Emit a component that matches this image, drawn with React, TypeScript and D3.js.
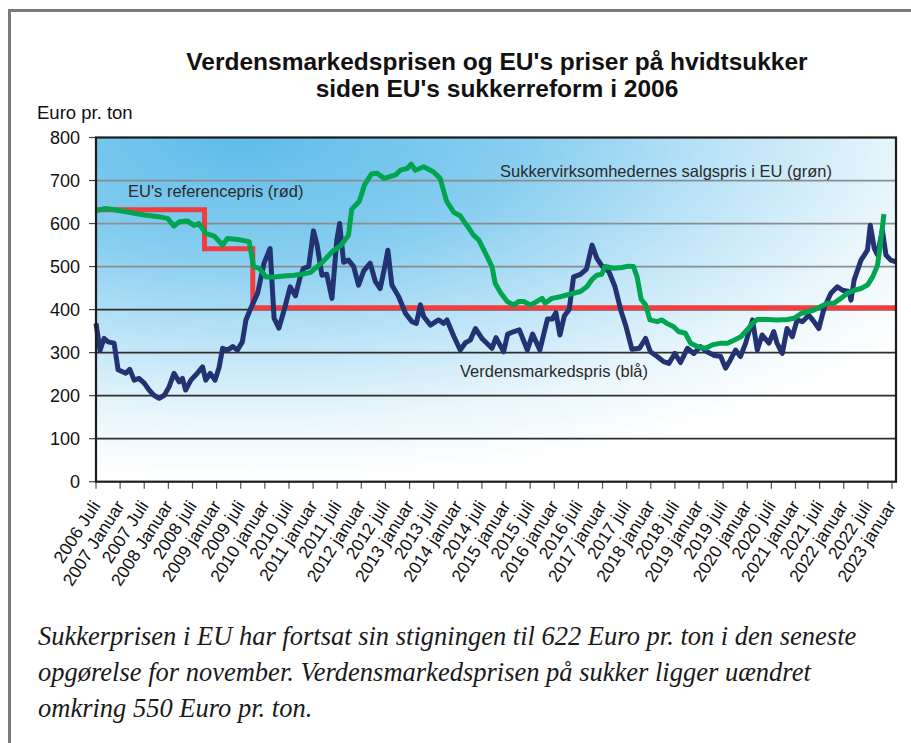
import React, { useEffect, useRef } from 'react';
import * as d3 from 'd3';

// months counted from 2006 juli (0) ; one tick every 6 months
const tickLabels = [
  '2006 Juli', '2007 Januar', '2007 Juli', '2008 Januar', '2008 juli', '2009 januar',
  '2009 juli', '2010 januar', '2010 juli', '2011 januar', '2011 juli', '2012 januar',
  '2012 juli', '2013 januar', '2013 juli', '2014 januar', '2014 juli', '2015 januar',
  '2015 juli', '2016 januar', '2016 juli', '2017 januar', '2017 juli', '2018 januar',
  '2018 juli', '2019 januar', '2019 juli', '2020 januar', '2020 juli', '2021 januar',
  '2021 juli', '2022 januar', '2022 juli', '2023 januar'
];
const yTicks = [0, 100, 200, 300, 400, 500, 600, 700, 800];

// EU's referencepris (rød) – step series [month, euro]
const refPrice: [number, number][] = [
  [0, 631.9], [27, 541.5], [39, 404.4], [199, 404.4]
];

// Sukkervirksomhedernes salgspris i EU (grøn)
const euPrice: [number, number][] = [
  [0, 630], [2.4, 635], [4.5, 632], [7.8, 627], [12, 620], [16.1, 615], [17.8, 612],
  [19.4, 594], [20.7, 604], [22.7, 606], [24.4, 596], [25.6, 600], [27.3, 577],
  [29.4, 571], [31.5, 550], [32.7, 565], [35.2, 563], [38.1, 558], [39.2, 500],
  [40.6, 496], [42.3, 476], [44.3, 476], [46.8, 478], [49.3, 480], [51, 482],
  [53.3, 486], [56.4, 511], [58.9, 536], [60.8, 548], [62.8, 573], [63.6, 633],
  [65.5, 652], [66.8, 690], [68.5, 715], [69.9, 717], [71.7, 705], [74.5, 713],
  [75.7, 724], [77.4, 728], [78.4, 738], [79.4, 724], [81.5, 732], [84, 720],
  [85.6, 705], [87.2, 652], [89, 626], [90.6, 618], [91.9, 600], [92.7, 590],
  [93.9, 573], [95.2, 562], [96.4, 540], [97.2, 525], [98.5, 500], [99.3, 461],
  [100.6, 440], [102.3, 419], [103.9, 411], [105.2, 419], [106.4, 419], [108.1, 411],
  [109.7, 419], [111, 426], [111.7, 415], [113.4, 426], [115.5, 430], [117.1, 434],
  [118.8, 438], [120.5, 442], [122.1, 453], [123.4, 470], [124.6, 480], [125.8, 482],
  [126.6, 500], [128.8, 496], [130.8, 498], [132.5, 501], [133.7, 500], [134.6, 476],
  [135.6, 424], [136.7, 411], [137.8, 376], [139.6, 372], [140.8, 376], [142, 368],
  [143.7, 360], [144.9, 349], [146.6, 345], [147.9, 322], [149.6, 314], [151.7, 310],
  [153.3, 318], [155.4, 322], [157.1, 322], [158.7, 329], [160.4, 337], [162, 353],
  [163.3, 368], [164.5, 377], [167, 377], [169.5, 376], [172, 377], [173.7, 380],
  [175.4, 391], [177, 395], [178.6, 399], [180.3, 407], [182, 415], [183.6, 415],
  [185.3, 426], [186.9, 438], [188.6, 445], [190.3, 449], [191.9, 457], [193.2, 476],
  [194.4, 503], [195.2, 558], [196, 622]
];

// Verdensmarkedspris (blå)
const worldPrice: [number, number][] = [
  [0, 368], [1, 305], [2, 333], [3, 325], [4.5, 322], [5.5, 260], [7.4, 252], [8.4, 261],
  [9.5, 236], [10.7, 240], [12, 229], [13.2, 213], [14.4, 201], [15.7, 194], [17, 201],
  [18.2, 221], [19.4, 252], [20.7, 232], [21.5, 240], [22.3, 213], [23.6, 236],
  [25.2, 252], [26.5, 267], [27.3, 236], [28.4, 252], [29.6, 236], [30.6, 265],
  [31.5, 310], [32.7, 306], [34, 314], [35.2, 306], [36.4, 325], [37.3, 376],
  [38.5, 403], [40.2, 438], [41.8, 508], [43.3, 542], [44.3, 380], [45.5, 357],
  [46.8, 399], [48.3, 453], [49.6, 432], [50.8, 476], [51.6, 496], [52.9, 500],
  [54.1, 583], [55, 550], [56.2, 480], [57.4, 482], [58.7, 426], [59.9, 561],
  [60.6, 600], [61.6, 510], [62.8, 515], [64.1, 500], [65.3, 457], [66.6, 490],
  [68.2, 508], [69.5, 465], [70.7, 449], [72, 508], [72.6, 538], [73.6, 457],
  [75.3, 430], [77, 391], [78.6, 372], [79.7, 368], [80.7, 411], [81.5, 384],
  [83.2, 364], [85.2, 376], [86.5, 368], [87.3, 376], [89, 338], [90.6, 306],
  [91.9, 323], [93.1, 329], [94.4, 356], [96, 333], [98.5, 310], [99.5, 335],
  [101.4, 302], [102.4, 343], [104, 349], [105.3, 353], [107.3, 306], [108.6, 343],
  [110.4, 306], [112.3, 378], [113.5, 378], [114.4, 393], [115.4, 341], [116.5, 385],
  [117.7, 400], [118.8, 476], [120.5, 482], [122, 494], [123.4, 550], [124.6, 519],
  [125.8, 502], [127.6, 488], [129.1, 453], [130.6, 397], [131.8, 362], [133.3, 308],
  [135.2, 310], [136.7, 333], [137.9, 302], [139.6, 291], [141.2, 279], [142.5, 275],
  [144, 298], [145.4, 277], [147.1, 310], [148.7, 298], [150.4, 314], [152, 302],
  [153.7, 294], [155.4, 291], [156.6, 264], [157.8, 283], [159.1, 306], [160.3, 291],
  [161.6, 322], [163.3, 376], [164.5, 306], [165.7, 341], [167.4, 322], [168.6, 349],
  [169.4, 322], [170.7, 298], [171.9, 356], [173.2, 337], [174.4, 376], [175.7, 372],
  [177.3, 387], [178.6, 372], [179.8, 356], [181.1, 403], [182.8, 438], [184.4, 453],
  [185.7, 445], [187.3, 442], [187.8, 422], [188.6, 469], [190.3, 515], [191.9, 538],
  [192.6, 596], [193.6, 542], [194.4, 527], [195.6, 585], [196.5, 527], [197.7, 515],
  [199, 511]
];

const captionLines = [
  'Sukkerprisen i EU har fortsat sin stigningen til 622 Euro pr. ton i den seneste',
  'opgørelse for november. Verdensmarkedsprisen på sukker ligger uændret',
  'omkring 550 Euro pr. ton.'
];

function App() {
  const svgRef = useRef<SVGSVGElement>(null);

  useEffect(() => {
    const svg = d3.select(svgRef.current);
    svg.selectAll('*').remove();

    const width = 911;
    const height = 743;
    const plot = { left: 96, top: 137.5, right: 896, bottom: 481.7 };
    const sans = 'Liberation Sans, Arial, sans-serif';

    const x = d3.scaleLinear().domain([0, 199]).range([plot.left, plot.right]);
    const y = d3.scaleLinear().domain([0, 800]).range([plot.bottom, plot.top]);

    // background gradient
    const defs = svg.append('defs');
    const grad = defs.append('radialGradient')
      .attr('id', 'bg')
      .attr('cx', 0.2).attr('cy', 0).attr('r', 1)
      .attr('fx', 0.18).attr('fy', 0);
    [
      [0, '#5fbce9'], [0.35, '#88cef0'], [0.6, '#bee4f7'],
      [0.82, '#e9f6fc'], [1, '#ffffff']
    ].forEach(([o, c]) => grad.append('stop').attr('offset', o).attr('stop-color', c));

    // outer frame
    svg.append('rect')
      .attr('x', 9.5).attr('y', 10.5)
      .attr('width', width + 20).attr('height', height + 20)
      .attr('fill', 'none')
      .attr('stroke', '#7f7977')
      .attr('stroke-width', 3);

    // title
    const title = svg.append('text')
      .attr('text-anchor', 'middle')
      .style('font-family', sans)
      .style('font-weight', 'bold')
      .style('font-size', '24.5px')
      .attr('fill', '#111');
    title.append('tspan').attr('x', 497).attr('y', 70)
      .text("Verdensmarkedsprisen og EU's priser på hvidtsukker");
    title.append('tspan').attr('x', 497).attr('y', 97)
      .text("siden EU's sukkerreform i 2006");

    svg.append('text')
      .attr('x', 37).attr('y', 119)
      .style('font-family', sans)
      .style('font-size', '18.5px')
      .attr('fill', '#111')
      .text('Euro pr. ton');

    // plot background
    svg.append('rect')
      .attr('x', plot.left).attr('y', plot.top)
      .attr('width', plot.right - plot.left)
      .attr('height', plot.bottom - plot.top)
      .attr('fill', 'url(#bg)');

    // grid lines
    svg.append('g')
      .selectAll('line')
      .data(yTicks.filter(d => d > 0 && d < 800))
      .enter().append('line')
      .attr('x1', plot.left).attr('x2', plot.right)
      .attr('y1', d => y(d)).attr('y2', d => y(d))
      .attr('stroke', d => (d > 400 ? '#8a8d90' : '#2e2e2e'))
      .attr('stroke-width', 1.8);

    // y ticks and labels
    svg.append('g')
      .selectAll('line')
      .data(yTicks)
      .enter().append('line')
      .attr('x1', plot.left - 7).attr('x2', plot.left)
      .attr('y1', d => y(d)).attr('y2', d => y(d))
      .attr('stroke', '#444')
      .attr('stroke-width', 1.2);
    svg.append('g')
      .selectAll('text')
      .data(yTicks)
      .enter().append('text')
      .attr('x', 80).attr('y', d => y(d))
      .attr('dy', '0.36em')
      .attr('text-anchor', 'end')
      .style('font-family', sans)
      .style('font-size', '18px')
      .attr('fill', '#111')
      .text(d => d);

    // x ticks and labels
    svg.append('g')
      .selectAll('line')
      .data(tickLabels)
      .enter().append('line')
      .attr('x1', (d, i) => x(i * 6)).attr('x2', (d, i) => x(i * 6))
      .attr('y1', plot.bottom).attr('y2', plot.bottom + 7)
      .attr('stroke', '#555')
      .attr('stroke-width', 1.2);
    svg.append('g')
      .selectAll('text')
      .data(tickLabels)
      .enter().append('text')
      .attr('transform', (d, i) => `translate(${x(i * 6) + 5},${plot.bottom + 24}) rotate(-57)`)
      .attr('text-anchor', 'end')
      .style('font-family', sans)
      .style('font-size', '17.5px')
      .attr('fill', '#111')
      .text(d => d);

    // series
    const line = d3.line<[number, number]>()
      .x(d => x(d[0]))
      .y(d => y(d[1]));

    svg.append('path')
      .datum(refPrice)
      .attr('fill', 'none')
      .attr('stroke', '#ef3d40')
      .attr('stroke-width', 5)
      .attr('d', line.curve(d3.curveStepAfter));

    line.curve(d3.curveLinear);

    svg.append('path')
      .datum(worldPrice)
      .attr('fill', 'none')
      .attr('stroke', '#233270')
      .attr('stroke-width', 5)
      .attr('stroke-linejoin', 'round')
      .attr('d', line);

    svg.append('path')
      .datum(euPrice)
      .attr('fill', 'none')
      .attr('stroke', '#00a550')
      .attr('stroke-width', 5)
      .attr('stroke-linejoin', 'round')
      .attr('d', line);

    // plot frame
    svg.append('rect')
      .attr('x', plot.left).attr('y', plot.top)
      .attr('width', plot.right - plot.left)
      .attr('height', plot.bottom - plot.top)
      .attr('fill', 'none')
      .attr('stroke', '#1c1c1c')
      .attr('stroke-width', 2.2);

    // series annotations
    const notes = [
      { text: "EU's referencepris (rød)", x: 128, y: 197 },
      { text: 'Sukkervirksomhedernes salgspris i EU (grøn)', x: 500, y: 177 },
      { text: 'Verdensmarkedspris (blå)', x: 460, y: 377 }
    ];
    svg.append('g')
      .selectAll('text')
      .data(notes)
      .enter().append('text')
      .attr('x', d => d.x).attr('y', d => d.y)
      .style('font-family', sans)
      .style('font-size', '16.5px')
      .attr('fill', '#2a2a2a')
      .text(d => d.text);

    // caption
    svg.append('g')
      .selectAll('text')
      .data(captionLines)
      .enter().append('text')
      .attr('x', 38).attr('y', (d, i) => 645 + i * 36)
      .style('font-family', 'Liberation Serif, Times New Roman, serif')
      .style('font-style', 'italic')
      .style('font-size', '26.5px')
      .attr('fill', '#1a1a1a')
      .text(d => d);
  }, []);

  return (
    <svg
      ref={svgRef}
      width={911}
      height={743}
      style={{ position: 'absolute', left: 0, top: 0, background: '#fff' }}
    />
  );
}

export default App;
